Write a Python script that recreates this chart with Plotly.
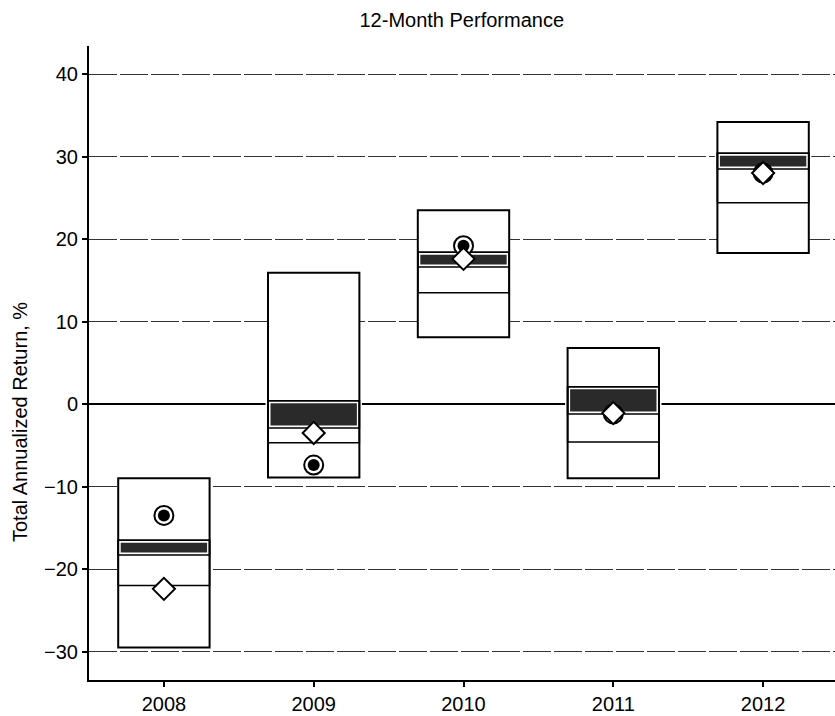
import plotly.graph_objects as go

years = ["2008", "2009", "2010", "2011", "2012"]
# percentile box: top / bottom
box_top = [-9.0, 15.9, 23.5, 6.8, 34.2]
box_bottom = [-29.5, -8.9, 8.1, -9.0, 18.3]
# shaded band (upper / lower edge) and lower quartile line
band_top = [-16.5, 0.4, 18.4, 2.1, 30.4]
band_bottom = [-18.3, -2.9, 16.6, -1.2, 28.5]
quart_low = [-22.0, -4.7, 13.5, -4.6, 24.4]
# markers
fund = [-13.5, -7.4, 19.2, -1.2, 28.0]
benchmark = [-22.4, -3.5, 17.6, -1.1, 28.0]

idx = list(range(len(years)))
W = 0.61
font = "Liberation Sans, Arial, sans-serif"

def diff(a, b):
    return [x - y for x, y in zip(a, b)]

fig = go.Figure()
# box body
fig.add_trace(go.Bar(x=idx, base=box_bottom, y=diff(box_top, box_bottom), width=W,
                     marker=dict(color="white", line=dict(color="black", width=0)),
                     hoverinfo="skip", showlegend=False))
# shaded band
fig.add_trace(go.Bar(x=idx, base=band_bottom, y=diff(band_top, band_bottom), width=W,
                     marker=dict(color="#2a2a2a", line=dict(color="white", width=5)),
                     hoverinfo="skip", showlegend=False))
# quartile lines
fig.add_trace(go.Bar(x=idx, base=quart_low, y=diff(band_top, quart_low), width=W,
                     marker=dict(color="rgba(0,0,0,0)", line=dict(color="black", width=1.5)),
                     hoverinfo="skip", showlegend=False))
fig.add_trace(go.Bar(x=idx, base=band_bottom, y=diff(band_top, band_bottom), width=W,
                     marker=dict(color="rgba(0,0,0,0)", line=dict(color="black", width=1.5)),
                     hoverinfo="skip", showlegend=False))
# box outline
fig.add_trace(go.Bar(x=idx, base=box_bottom, y=diff(box_top, box_bottom), width=W,
                     marker=dict(color="rgba(0,0,0,0)", line=dict(color="black", width=2)),
                     hoverinfo="skip", showlegend=False))
# fund markers
fig.add_trace(go.Scatter(x=idx, y=fund, mode="markers",
                         marker=dict(symbol="circle", size=19, color="white",
                                     line=dict(color="black", width=2)),
                         hoverinfo="skip", showlegend=False))
fig.add_trace(go.Scatter(x=idx, y=fund, mode="markers",
                         marker=dict(symbol="circle", size=12, color="black"),
                         hoverinfo="skip", showlegend=False))
# benchmark markers
fig.add_trace(go.Scatter(x=idx, y=benchmark, mode="markers",
                         marker=dict(symbol="diamond", size=17, color="white",
                                     line=dict(color="black", width=2)),
                         hoverinfo="skip", showlegend=False))

fig.update_layout(
    width=835, height=716,
    margin=dict(l=89, r=0, t=46, b=36),
    paper_bgcolor="white", plot_bgcolor="white",
    barmode="overlay",
    font=dict(family=font, color="black"),
    title=dict(text="12-Month Performance", x=0.553, xanchor="center",
               y=1 - 20 / 716, yanchor="middle", yref="container",
               font=dict(size=20, family=font, color="black")),
    xaxis=dict(range=[-0.5, 4.48], tickvals=idx, ticktext=years,
               showgrid=False, zeroline=False, showline=True, linecolor="black",
               linewidth=2, ticks="outside", ticklen=5, tickwidth=1.5,
               tickcolor="black", tickfont=dict(size=20)),
    yaxis=dict(range=[-33.45, 43.4], tickvals=[-30, -20, -10, 0, 10, 20, 30, 40],
               showgrid=True, gridcolor="#333", griddash="28px,3px", gridwidth=1,
               zeroline=True, zerolinecolor="black", zerolinewidth=1.5,
               showline=True, linecolor="black", linewidth=2,
               ticks="outside", ticklen=5, tickwidth=1.5, tickcolor="black",
               tickfont=dict(size=20)),
    annotations=[dict(text="Total Annualized Return, %", xref="paper", yref="paper",
                      x=(20 - 89) / 746, y=(680 - 422) / 634, xanchor="center",
                      yanchor="middle", textangle=-90, showarrow=False,
                      font=dict(size=20, family=font, color="black"))],
)

fig.write_html("out.html", config={"displayModeBar": False},
               post_script="document.body.style.margin='0';document.body.style.overflow='hidden';")
